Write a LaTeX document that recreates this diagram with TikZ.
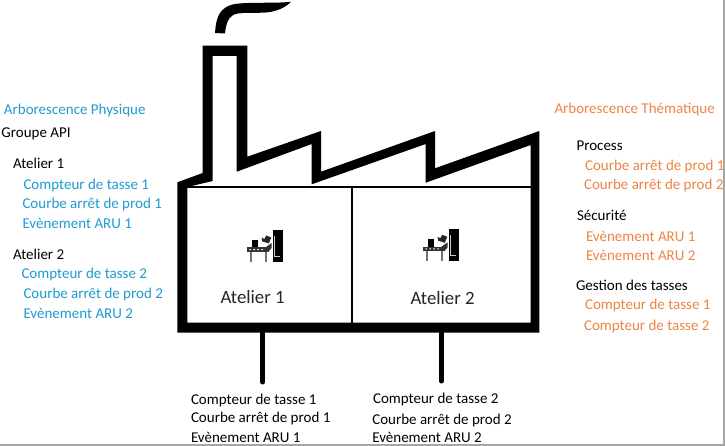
\documentclass[tikz,border=0pt]{standalone}
\usepackage{fontspec}
\setmainfont{Carlito}
\definecolor{physblue}{HTML}{1F9BD1}
\definecolor{themeorange}{HTML}{EE8445}
\definecolor{edgegray}{HTML}{A6A6A6}
\tikzset{
  lbl/.style={anchor=base west,inner sep=0pt,outer sep=0pt,yshift=-0.6pt,font=\fontsize{15}{17}\selectfont,text=black},
  bluelbl/.style={lbl,text=physblue},
  orangelbl/.style={lbl,text=themeorange},
  hall/.style={lbl,yshift=-1pt,font=\fontsize{18.8}{21}\selectfont,text=black!85},
  legline/.style={line width=5pt,line cap=round,black},
  pics/machine/.style={code={
    \fill[black] (25.3,0) rectangle (36,32);
    \draw[white,line width=.4pt,opacity=.8] (27,6) -- (27,26) -- (33,26);
    \fill[black!80] (0,17.5) rectangle (21,22);
    \fill[black!80] (18,17.5) -- (24.3,13) -- (24.3,18) -- (21,22) -- cycle;
    \fill[black] (4.5,10) rectangle (11,17.5);
    \fill[black!85] (14.3,7.5) -- (17,9) -- (19,5.5) -- (24,7.5) -- (21.5,13.5) -- (17,12) -- (15,11.5) -- cycle;
    \fill[black!55] (2.5,22) rectangle (5,32);
    \fill[black!55] (17.5,22) rectangle (19.3,32);
    \fill[white] (2,19.2) rectangle (3.5,20.2) (6,19.2) rectangle (7.5,20.2) (10,19.2) rectangle (11.5,20.2) (14,19.2) rectangle (15.5,20.2);
  }}
}
\begin{document}
\begin{tikzpicture}[x=1pt,y=-1pt]
\useasboundingbox (0,0) rectangle (725,446);
\fill[white] (0,0) rectangle (725,446);
\fill[edgegray] (722.8,0) rectangle (725,446);
\fill[edgegray] (0,444.3) rectangle (725,446);
% factory outline
\fill[black,even odd rule]
  (177.3,332.7) -- (177.3,182.3) -- (202.7,173) -- (202.7,45.7) -- (247.3,45.7)
  -- (247.3,156.7) -- (321,131) -- (321,171.7) -- (435,131) -- (435,168.3)
  -- (539.3,131) -- (539.3,332.7) -- cycle
  (187.3,322.5) -- (187.3,187) -- (212.7,181) -- (212.7,56) -- (236.7,56)
  -- (236.7,171.7) -- (311.7,144) -- (311.7,184.3) -- (425.7,144) -- (425.7,182.7)
  -- (530.7,145) -- (530.7,322.5) -- cycle;
% smoke
\fill[black] (215,33) .. controls (216,18) and (219,6) .. (237,3.7)
  .. controls (255,2) and (275,3.5) .. (291,1.8)
  .. controls (285,8) and (275,12.5) .. (262,12.7)
  .. controls (252,13) and (245,12.5) .. (238,13.5)
  .. controls (228,15) and (226,24) .. (225,33.5) -- cycle;
% inner walls
\draw[black,line width=1.7pt] (187.3,187.3) -- (530.7,187.3);
\draw[black,line width=1.7pt] (352,187.3) -- (352,322.5);
% machines
\pic at (247.3,230) {machine};
\pic at (423.3,229.3) {machine};
% hall labels
\node[hall] (hallone) at (220.5,301.7) {Atelier 1};
\node[hall] (halltwo) at (410.5,302.7) {Atelier 2};
% connectors
\coordinate (legonetop) at (262.7,330);
\coordinate (legoneend) at (262.7,382);
\coordinate (legtwotop) at (441.3,330);
\coordinate (legtwoend) at (441.3,381);
\draw[legline] (legonetop) -- (legoneend);
\draw[legline] (legtwotop) -- (legtwoend);
% left tree
\node[bluelbl] (pt) at (4,114.3) {Arborescence Physique};
\node[lbl] (ga) at (1.5,136.7) {Groupe API};
\node[lbl] (a1) at (13,168.3) {Atelier 1};
\node[bluelbl] (l1) at (23.5,189) {Compteur de tasse 1};
\node[bluelbl] (l2) at (22.5,207.7) {Courbe arrêt de prod 1};
\node[bluelbl] (l3) at (22.5,228.3) {Evènement ARU 1};
\node[lbl] (a2) at (13,259) {Atelier 2};
\node[bluelbl] (l4) at (21.5,277.7) {Compteur de tasse 2};
\node[bluelbl] (l5) at (23.5,298.3) {Courbe arrêt de prod 2};
\node[bluelbl] (l6) at (23.5,318.3) {Evènement ARU 2};
% right tree
\node[orangelbl] (tt) at (554.5,113.3) {Arborescence Thématique};
\node[lbl] (pr) at (576.5,150) {Process};
\node[orangelbl] (r1) at (585,170) {Courbe arrêt de prod 1};
\node[orangelbl] (r2) at (584,189.3) {Courbe arrêt de prod 2};
\node[lbl] (se) at (577,220) {Sécurité};
\node[orangelbl] (r3) at (586,241) {Evènement ARU 1};
\node[orangelbl] (r4) at (586,260) {Evènement ARU 2};
\node[lbl] (ge) at (576,290) {Gestion des tasses};
\node[orangelbl] (r5) at (585,309) {Compteur de tasse 1};
\node[orangelbl] (r6) at (584,330) {Compteur de tasse 2};
% bottom lists
\node[lbl] (b1) at (191,404) {Compteur de tasse 1};
\node[lbl] (b2) at (191,422.3) {Courbe arrêt de prod 1};
\node[lbl] (b3) at (191,441.5) {Evènement ARU 1};
\node[lbl] (c1) at (373,403) {Compteur de tasse 2};
\node[lbl] (c2) at (372.3,424.3) {Courbe arrêt de prod 2};
\node[lbl] (c3) at (372.3,441.5) {Evènement ARU 2};
\end{tikzpicture}
\end{document}
